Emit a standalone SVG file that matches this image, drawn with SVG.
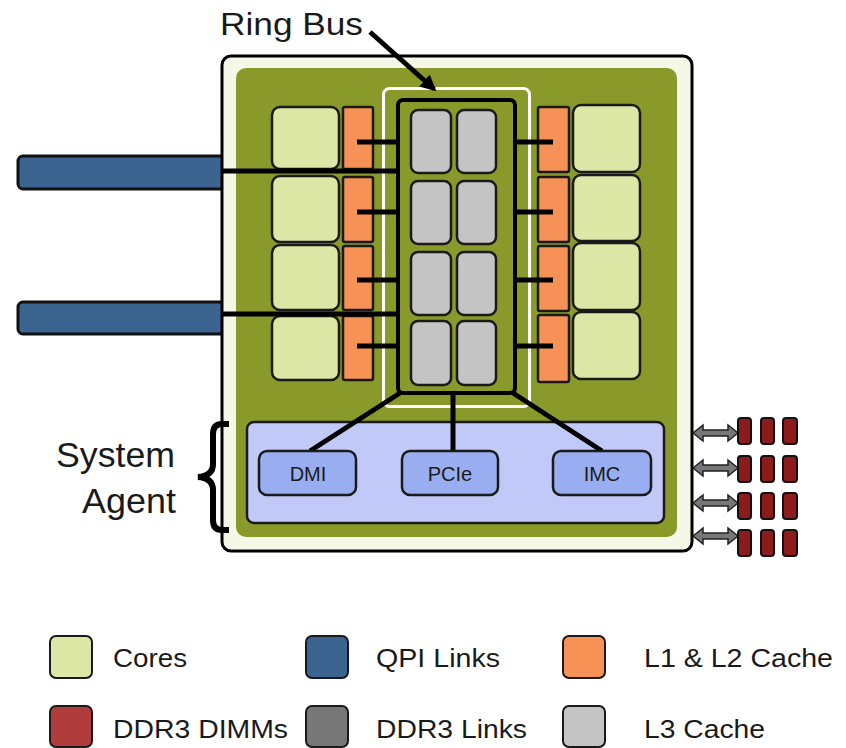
<svg xmlns="http://www.w3.org/2000/svg" width="846" height="748" viewBox="0 0 846 748">
<style>
text{font-family:"Liberation Sans",Arial,sans-serif;fill:#1a1a1a}
.core{fill:#dce7a6;stroke:#1a1a1a;stroke-width:2.5}
.cache{fill:#f79256;stroke:#1a1a1a;stroke-width:2.5}
.l3{fill:#c4c4c4;stroke:#1a1a1a;stroke-width:2.5}
.qpi{fill:#3b6490;stroke:#111;stroke-width:3}
.dimm{fill:#8e1b1b;stroke:#111;stroke-width:2}
.blk{fill:#98aef0;stroke:#1a1a1a;stroke-width:2.5}
.wire{stroke:#000;stroke-width:5;fill:none}
.dl{fill:#777;stroke:#222;stroke-width:1.5}
.lg{stroke:#1a1a1a;stroke-width:2}
.lt{font-size:26px}
.bt{font-size:20px}
</style>
<defs>
<marker id="ah" viewBox="0 0 10 10" refX="8" refY="5" markerWidth="3.2" markerHeight="3.2" orient="auto"><path d="M0,0 L10,5 L0,10 z" fill="#000"/></marker>
</defs>

<g id="qpi-links">
<rect class="qpi" x="18" y="156" width="214" height="33" rx="5"/>
<rect class="qpi" x="18" y="302" width="214" height="32" rx="5"/>
</g>

<g id="chip">
<rect x="222" y="56" width="470" height="495" rx="9" fill="#f5f8e6" stroke="#000" stroke-width="3"/>
<rect x="236" y="68" width="441" height="469" rx="10" fill="#8a9a2a"/>
<rect x="383.5" y="88.5" width="146" height="318" rx="6" fill="none" stroke="#fff" stroke-width="3"/>
</g>

<g id="cores-left">
<rect class="core" x="272" y="107" width="67" height="62" rx="8"/>
<rect class="core" x="272" y="176" width="67" height="66" rx="8"/>
<rect class="core" x="272" y="245" width="67" height="65" rx="8"/>
<rect class="core" x="272" y="316" width="67" height="64" rx="8"/>
</g>
<g id="cache-left">
<rect class="cache" x="343" y="107" width="30" height="62" rx="2"/>
<rect class="cache" x="343" y="177" width="30" height="65" rx="2"/>
<rect class="cache" x="343" y="246" width="30" height="64" rx="2"/>
<rect class="cache" x="343" y="316" width="30" height="64" rx="2"/>
</g>
<g id="cores-right">
<rect class="core" x="573" y="105" width="67" height="67" rx="8"/>
<rect class="core" x="573" y="175" width="67" height="66" rx="8"/>
<rect class="core" x="573" y="243" width="67" height="67" rx="8"/>
<rect class="core" x="573" y="312" width="67" height="67" rx="8"/>
</g>
<g id="cache-right">
<rect class="cache" x="538" y="107" width="31" height="65" rx="2"/>
<rect class="cache" x="538" y="177" width="31" height="65" rx="2"/>
<rect class="cache" x="538" y="246" width="31" height="65" rx="2"/>
<rect class="cache" x="538" y="315" width="31" height="67" rx="2"/>
</g>

<g id="ring-bus">
<rect x="398" y="100" width="117" height="293" rx="5" fill="#8a9a2a" stroke="#000" stroke-width="4"/>
</g>
<g id="l3-cache">
<rect class="l3" x="411" y="110" width="40" height="63" rx="7"/>
<rect class="l3" x="457" y="110" width="39" height="63" rx="7"/>
<rect class="l3" x="411" y="181" width="40" height="63" rx="7"/>
<rect class="l3" x="457" y="181" width="39" height="63" rx="7"/>
<rect class="l3" x="411" y="252" width="40" height="63" rx="7"/>
<rect class="l3" x="457" y="252" width="39" height="63" rx="7"/>
<rect class="l3" x="411" y="321" width="40" height="64" rx="7"/>
<rect class="l3" x="457" y="321" width="39" height="64" rx="7"/>
</g>

<g id="system-agent">
<rect x="247" y="422" width="417" height="101" rx="7" fill="#c0c9f7" stroke="#1a1a1a" stroke-width="2.5"/>
</g>

<g id="connectors">
<line class="wire" x1="357" y1="142" x2="400" y2="142"/>
<line class="wire" x1="357" y1="212" x2="400" y2="212"/>
<line class="wire" x1="357" y1="280" x2="400" y2="280"/>
<line class="wire" x1="357" y1="346" x2="400" y2="346"/>
<line class="wire" x1="513" y1="142" x2="553" y2="142"/>
<line class="wire" x1="513" y1="212" x2="553" y2="212"/>
<line class="wire" x1="513" y1="280" x2="553" y2="280"/>
<line class="wire" x1="513" y1="346" x2="553" y2="346"/>
<line class="wire" x1="222" y1="171" x2="400" y2="171"/>
<line class="wire" x1="222" y1="314" x2="400" y2="314"/>
<line class="wire" x1="400" y1="393" x2="310" y2="451"/>
<line class="wire" x1="453" y1="393" x2="453" y2="452"/>
<line class="wire" x1="513" y1="393" x2="602" y2="451"/>
<line x1="370" y1="32" x2="434" y2="89" stroke="#000" stroke-width="5" marker-end="url(#ah)"/>
<polygon class="dl" points="693,433 703,425 703,430 728,430 728,425 738,433 728,441 728,436 703,436 703,441"/>
<polygon class="dl" points="693,468 703,460 703,465 728,465 728,460 738,468 728,476 728,471 703,471 703,476"/>
<polygon class="dl" points="693,503 703,495 703,500 728,500 728,495 738,503 728,511 728,506 703,506 703,511"/>
<polygon class="dl" points="693,536 703,528 703,533 728,533 728,528 738,536 728,544 728,539 703,539 703,544"/>
</g>

<g id="dmi"><rect class="blk" x="259" y="451" width="97" height="44" rx="8"/><text class="bt" x="308" y="481" text-anchor="middle">DMI</text></g>
<g id="pcie"><rect class="blk" x="402" y="451" width="96" height="44" rx="8"/><text class="bt" x="450" y="481" text-anchor="middle">PCIe</text></g>
<g id="imc"><rect class="blk" x="553" y="451" width="98" height="44" rx="8"/><text class="bt" x="602" y="481" text-anchor="middle">IMC</text></g>

<g id="ddr3-dimms">
<rect class="dimm" x="738" y="418" width="13" height="26" rx="3"/><rect class="dimm" x="761" y="418" width="13" height="26" rx="3"/><rect class="dimm" x="783" y="418" width="14" height="26" rx="3"/>
<rect class="dimm" x="738" y="456" width="13" height="26" rx="3"/><rect class="dimm" x="761" y="456" width="13" height="26" rx="3"/><rect class="dimm" x="783" y="456" width="14" height="26" rx="3"/>
<rect class="dimm" x="738" y="493" width="13" height="26" rx="3"/><rect class="dimm" x="761" y="493" width="13" height="26" rx="3"/><rect class="dimm" x="783" y="493" width="14" height="26" rx="3"/>
<rect class="dimm" x="738" y="530" width="13" height="26" rx="3"/><rect class="dimm" x="761" y="530" width="13" height="26" rx="3"/><rect class="dimm" x="783" y="530" width="14" height="26" rx="3"/>
</g>

<g id="label-ring-bus"><text x="220" y="35" font-size="31" textLength="143" lengthAdjust="spacingAndGlyphs">Ring Bus</text></g>

<g id="label-system-agent">
<text x="56" y="467" font-size="35" textLength="119" lengthAdjust="spacingAndGlyphs">System</text>
<text x="82" y="513" font-size="35" textLength="94" lengthAdjust="spacingAndGlyphs">Agent</text>
<path d="M229,424 L222,424 Q213,424 213,434 L213,464 Q213,476 198,477 Q213,478 213,490 L213,520 Q213,530 222,530 L229,530" fill="none" stroke="#000" stroke-width="6"/>
</g>

<g id="legend">
<rect class="lg" x="50" y="636" width="42" height="42" rx="6" fill="#dce7a6"/>
<text class="lt" x="113" y="667" textLength="74" lengthAdjust="spacingAndGlyphs">Cores</text>
<rect class="lg" x="306" y="636" width="42" height="42" rx="6" fill="#3b6490"/>
<text class="lt" x="376" y="667" textLength="124" lengthAdjust="spacingAndGlyphs">QPI Links</text>
<rect class="lg" x="563" y="636" width="42" height="42" rx="6" fill="#f79256"/>
<text class="lt" x="644" y="667" textLength="189" lengthAdjust="spacingAndGlyphs">L1 &amp; L2 Cache</text>
<rect class="lg" x="50" y="706" width="42" height="41" rx="6" fill="#b03c3c"/>
<text class="lt" x="113" y="738" textLength="175" lengthAdjust="spacingAndGlyphs">DDR3 DIMMs</text>
<rect class="lg" x="306" y="706" width="42" height="41" rx="6" fill="#777"/>
<text class="lt" x="376" y="738" textLength="151" lengthAdjust="spacingAndGlyphs">DDR3 Links</text>
<rect class="lg" x="563" y="706" width="42" height="41" rx="6" fill="#c4c4c4"/>
<text class="lt" x="644" y="738" textLength="121" lengthAdjust="spacingAndGlyphs">L3 Cache</text>
</g>
</svg>
